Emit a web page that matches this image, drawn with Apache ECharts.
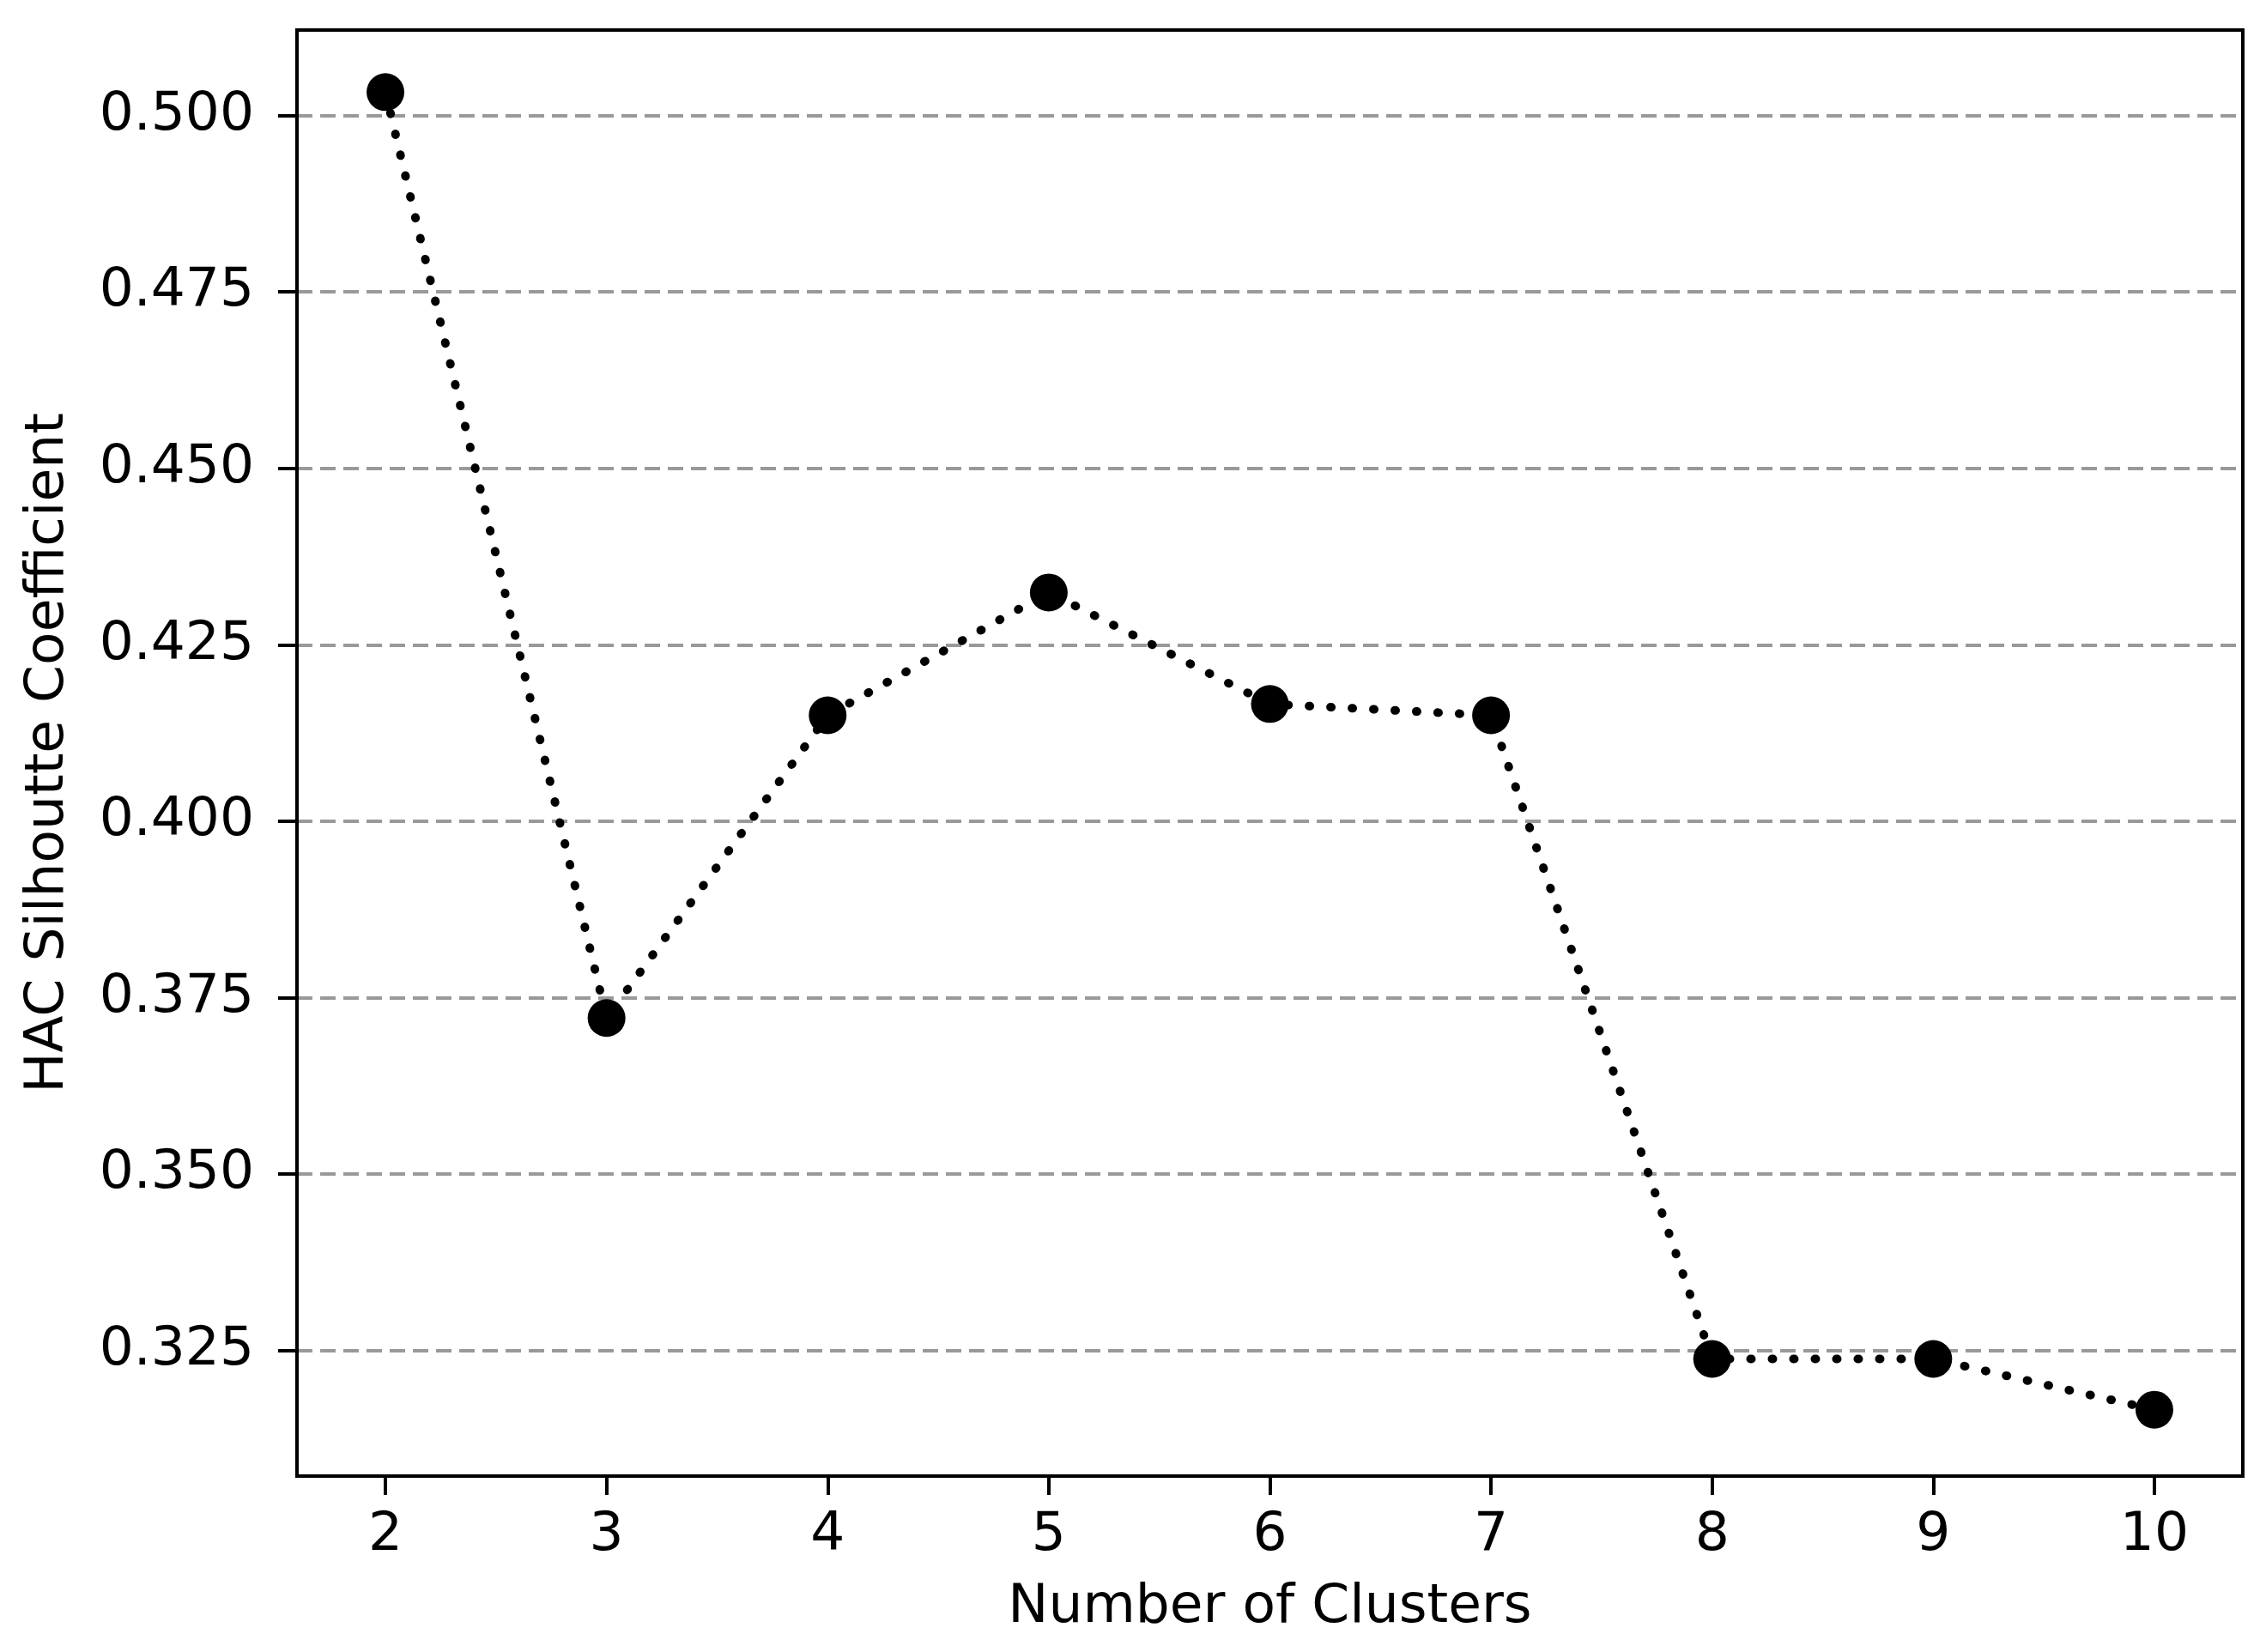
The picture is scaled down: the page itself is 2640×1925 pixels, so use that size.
<!DOCTYPE html>
<html>
<head>
<meta charset="utf-8">
<script src="https://cdn.jsdelivr.net/npm/echarts@6/dist/echarts.min.js"></script>
<style>
  html, body { margin: 0; padding: 0; background: #fff; }
  #chart { width: 2640px; height: 1925px; }
</style>
</head>
<body>
<div id="chart"></div>
<script>
// Données
var clusters = [2, 3, 4, 5, 6, 7, 8, 9, 10];
var silhouette = [0.5033, 0.3721, 0.4150, 0.4324, 0.4166, 0.4150, 0.3238, 0.3238, 0.3166];
var xTicks = [2, 3, 4, 5, 6, 7, 8, 9, 10];
var yTicks = [0.325, 0.350, 0.375, 0.400, 0.425, 0.450, 0.475, 0.500];

var points = [];
for (var i = 0; i < clusters.length; i++) {
  points.push([clusters[i], silhouette[i]]);
}

var chart = echarts.init(document.getElementById('chart'));

var fontFamily = 'DejaVu Sans';

var option = {
  backgroundColor: '#ffffff',
  animation: false,
  grid: {
    left: 346,
    right: 27,
    top: 35,
    bottom: 205,
    show: true,
    borderColor: '#000',
    borderWidth: 4,
    backgroundColor: 'transparent'
  },
  xAxis: {
    type: 'value',
    min: 1.6,
    max: 10.4,
    name: 'Number of Clusters',
    nameLocation: 'middle',
    nameGap: 122,
    nameTextStyle: { fontFamily: fontFamily, fontSize: 63, color: '#000' },
    axisLine: { show: true, lineStyle: { color: '#000', width: 4 } },
    axisTick: { show: true, length: 22, inside: false, lineStyle: { color: '#000', width: 4 }, customValues: xTicks },
    axisLabel: {
      margin: 38,
      fontFamily: fontFamily, fontSize: 63, color: '#000',
      customValues: xTicks,
      formatter: function (v) { return String(v); }
    },
    splitLine: { show: false }
  },
  yAxis: {
    type: 'value',
    min: 0.3072,
    max: 0.5121,
    name: 'HAC Silhoutte Coefficient',
    nameLocation: 'middle',
    nameGap: 258,
    nameTextStyle: { fontFamily: fontFamily, fontSize: 63, color: '#000' },
    axisLine: { show: true, lineStyle: { color: '#000', width: 4 } },
    axisTick: { show: true, length: 22, inside: false, lineStyle: { color: '#000', width: 4 }, customValues: yTicks },
    axisLabel: {
      margin: 50,
      fontFamily: fontFamily, fontSize: 63, color: '#000',
      customValues: yTicks,
      formatter: function (v) { return v.toFixed(3); }
    },
    splitLine: {
      show: true,
      lineStyle: { color: '#999999', width: 4, type: [18, 9] }
    }
  },
  series: [{
    type: 'line',
    data: points,
    symbol: 'circle',
    symbolSize: 44,
    itemStyle: { color: '#000' },
    lineStyle: { color: '#000', width: 10, type: [1, 24], cap: 'round' },
    z: 3
  }]
};

chart.setOption(option);
</script>
</body>
</html>
